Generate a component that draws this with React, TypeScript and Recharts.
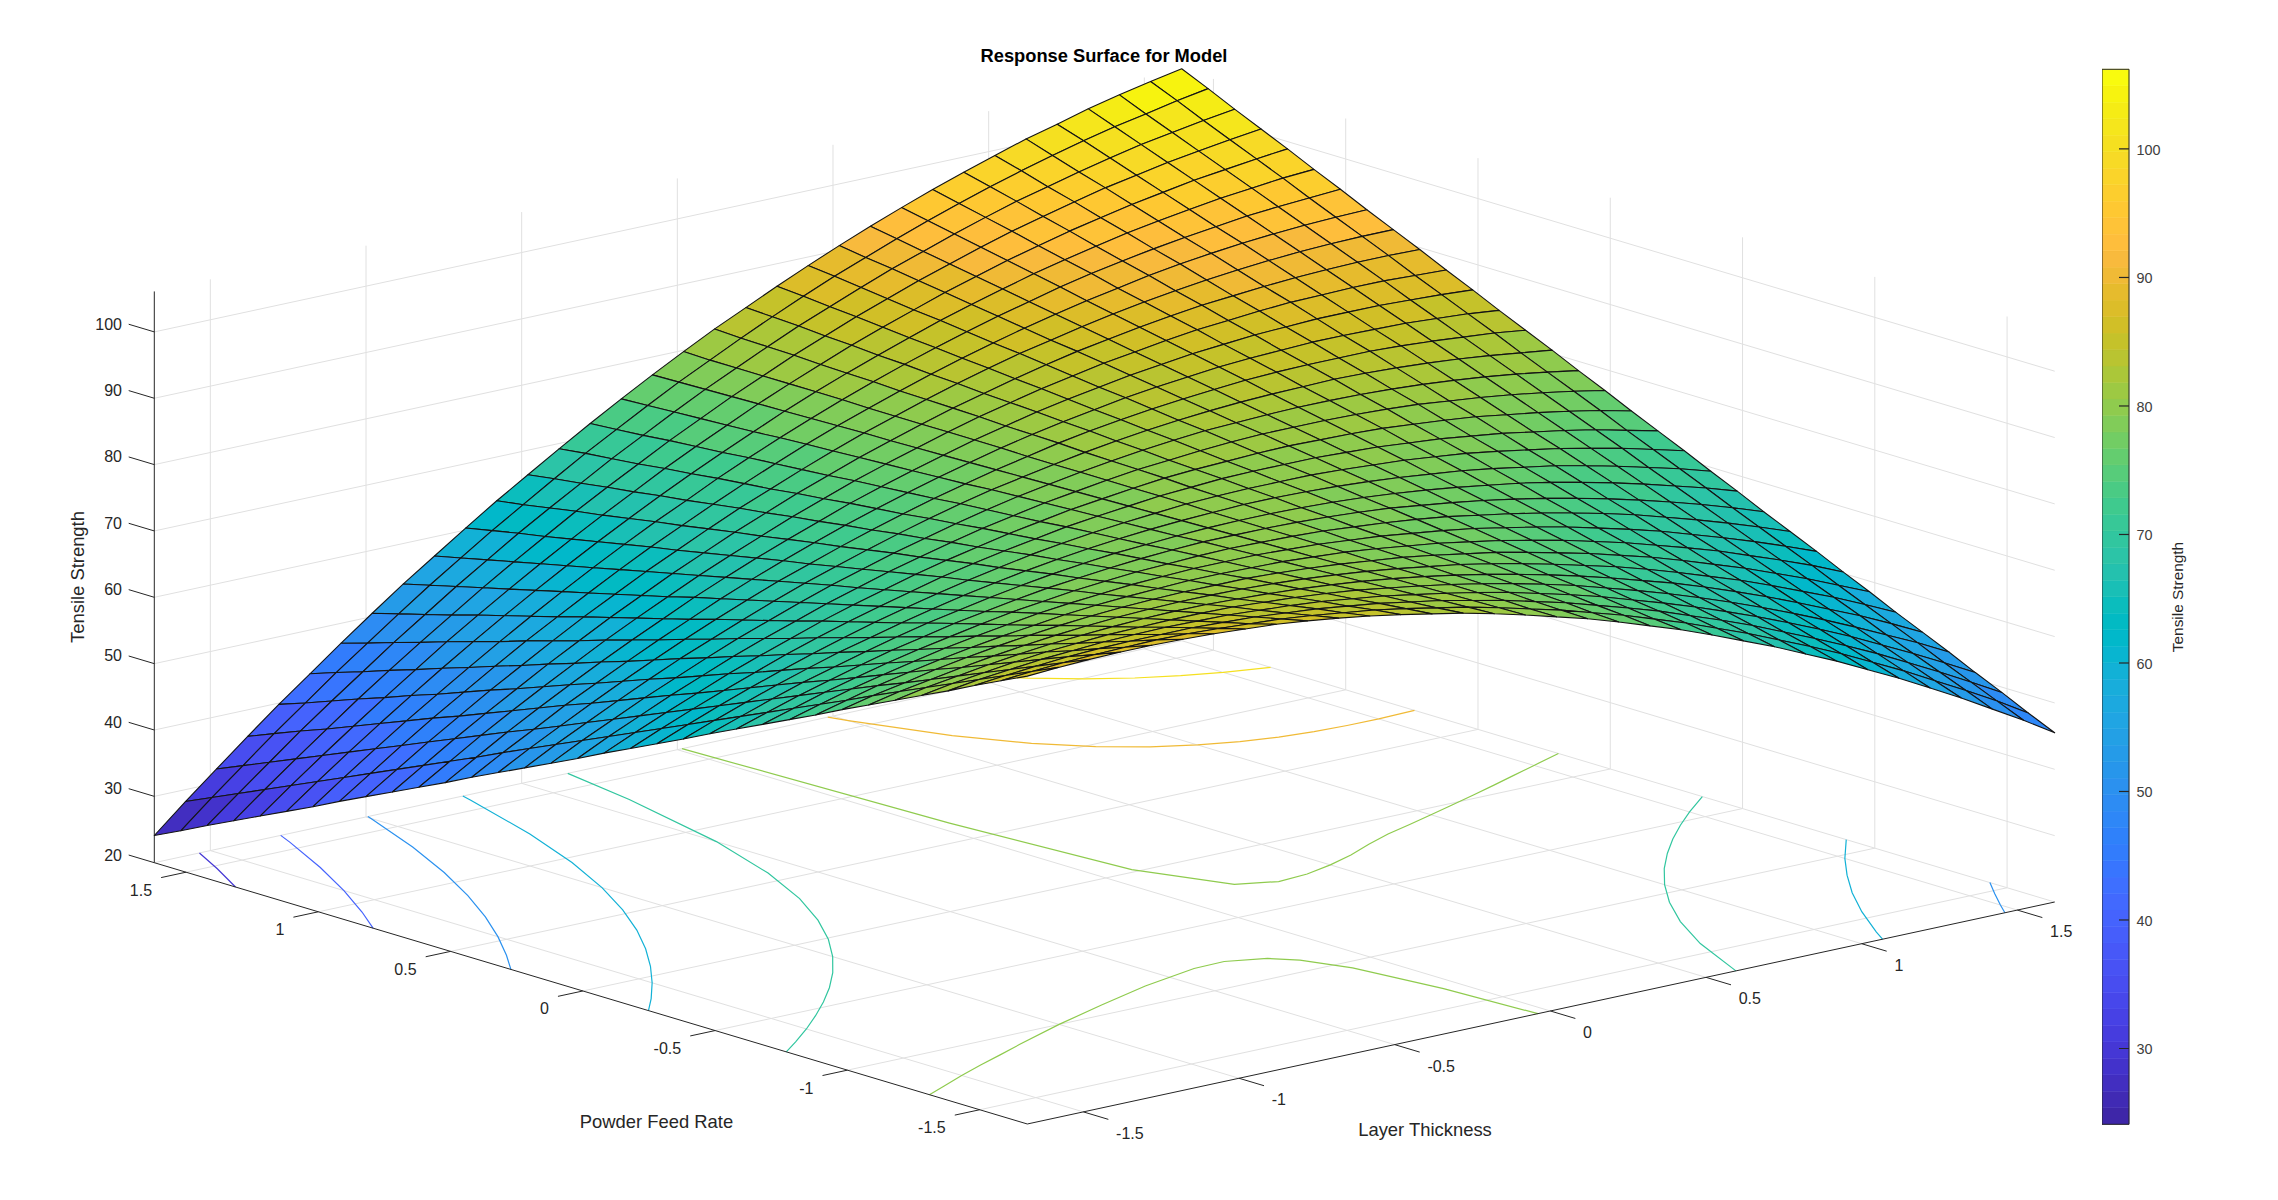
import React from 'react';
import { ScatterChart, Scatter, XAxis, YAxis, ReferenceArea } from 'recharts';

const WIDTH = 2278;
const HEIGHT = 1200;
const FONT = '"Liberation Sans", Arial, sans-serif';
const TEXT = '#262626';
const GRID = '#e0e0e0';

const LT_VALUES = [-1.68, -1.58, -1.48, -1.38, -1.28, -1.18, -1.08, -0.98, -0.88, -0.78, -0.68, -0.58, -0.48, -0.38, -0.28, -0.18, -0.08, 0.02, 0.12, 0.22, 0.32, 0.42, 0.52, 0.62, 0.72, 0.82, 0.92, 1.02, 1.12, 1.22, 1.32, 1.42, 1.52, 1.62];
const PFR_VALUES = [-1.68, -1.58, -1.48, -1.38, -1.28, -1.18, -1.08, -0.98, -0.88, -0.78, -0.68, -0.58, -0.48, -0.38, -0.28, -0.18, -0.08, 0.02, 0.12, 0.22, 0.32, 0.42, 0.52, 0.62, 0.72, 0.82, 0.92, 1.02, 1.12, 1.22, 1.32, 1.42, 1.52, 1.62];

// tensile strength, one row per layer thickness value, columns follow PFR_VALUES
const TENSILE = [
  [87.5,85.6,83.7,81.7,79.8,77.9,76.0,74.1,72.1,70.2,68.3,66.4,64.5,62.5,60.6,58.7,56.8,54.8,52.9,51.0,49.1,47.2,45.2,43.3,41.4,39.5,37.6,35.6,33.7,31.8,29.9,28.0,26.0,24.1],
  [87.8,86.0,84.2,82.4,80.6,78.8,77.0,75.2,73.3,71.5,69.7,67.9,66.1,64.3,62.5,60.7,58.9,57.1,55.3,53.5,51.7,49.9,48.0,46.2,44.4,42.6,40.8,39.0,37.2,35.4,33.6,31.8,30.0,28.2],
  [88.0,86.3,84.6,82.9,81.2,79.5,77.8,76.1,74.5,72.8,71.1,69.4,67.7,66.0,64.3,62.6,60.9,59.2,57.5,55.8,54.1,52.4,50.8,49.1,47.4,45.7,44.0,42.3,40.6,38.9,37.2,35.5,33.8,32.1],
  [88.1,86.5,85.0,83.4,81.8,80.2,78.6,77.1,75.5,73.9,72.3,70.7,69.2,67.6,66.0,64.4,62.8,61.3,59.7,58.1,56.5,55.0,53.4,51.8,50.2,48.6,47.1,45.5,43.9,42.3,40.7,39.2,37.6,36.0],
  [88.1,86.6,85.2,83.7,82.3,80.8,79.3,77.9,76.4,74.9,73.5,72.0,70.5,69.1,67.6,66.1,64.7,63.2,61.7,60.3,58.8,57.3,55.9,54.4,52.9,51.5,50.0,48.5,47.1,45.6,44.2,42.7,41.2,39.8],
  [88.0,86.7,85.3,84.0,82.6,81.3,79.9,78.6,77.2,75.9,74.5,73.2,71.8,70.5,69.1,67.8,66.4,65.1,63.7,62.4,61.0,59.6,58.3,56.9,55.6,54.2,52.9,51.5,50.2,48.8,47.5,46.1,44.8,43.4],
  [87.8,86.6,85.3,84.1,82.9,81.6,80.4,79.2,77.9,76.7,75.4,74.2,73.0,71.7,70.5,69.3,68.0,66.8,65.6,64.3,63.1,61.8,60.6,59.4,58.1,56.9,55.7,54.4,53.2,52.0,50.7,49.5,48.2,47.0],
  [87.5,86.4,85.3,84.2,83.0,81.9,80.8,79.7,78.5,77.4,76.3,75.2,74.1,72.9,71.8,70.7,69.6,68.4,67.3,66.2,65.1,63.9,62.8,61.7,60.6,59.5,58.3,57.2,56.1,55.0,53.8,52.7,51.6,50.5],
  [87.2,86.1,85.1,84.1,83.1,82.1,81.1,80.1,79.1,78.1,77.1,76.0,75.0,74.0,73.0,72.0,71.0,70.0,69.0,68.0,67.0,66.0,65.0,63.9,62.9,61.9,60.9,59.9,58.9,57.9,56.9,55.9,54.9,53.9],
  [86.7,85.8,84.9,84.0,83.1,82.2,81.3,80.4,79.5,78.6,77.7,76.8,75.9,75.0,74.1,73.2,72.3,71.4,70.6,69.7,68.8,67.9,67.0,66.1,65.2,64.3,63.4,62.5,61.6,60.7,59.8,58.9,58.0,57.1],
  [86.1,85.3,84.5,83.7,83.0,82.2,81.4,80.6,79.8,79.0,78.3,77.5,76.7,75.9,75.1,74.4,73.6,72.8,72.0,71.2,70.4,69.7,68.9,68.1,67.3,66.5,65.8,65.0,64.2,63.4,62.6,61.9,61.1,60.3],
  [85.4,84.7,84.1,83.4,82.7,82.0,81.4,80.7,80.0,79.4,78.7,78.0,77.4,76.7,76.0,75.4,74.7,74.0,73.4,72.7,72.0,71.4,70.7,70.0,69.4,68.7,68.0,67.4,66.7,66.0,65.4,64.7,64.0,63.4],
  [84.6,84.1,83.5,83.0,82.4,81.8,81.3,80.7,80.2,79.6,79.1,78.5,78.0,77.4,76.9,76.3,75.7,75.2,74.6,74.1,73.5,73.0,72.4,71.9,71.3,70.8,70.2,69.6,69.1,68.5,68.0,67.4,66.9,66.3],
  [83.7,83.3,82.9,82.4,82.0,81.5,81.1,80.7,80.2,79.8,79.3,78.9,78.5,78.0,77.6,77.1,76.7,76.3,75.8,75.4,74.9,74.5,74.1,73.6,73.2,72.7,72.3,71.9,71.4,71.0,70.5,70.1,69.7,69.2],
  [82.8,82.4,82.1,81.8,81.5,81.1,80.8,80.5,80.1,79.8,79.5,79.2,78.8,78.5,78.2,77.9,77.5,77.2,76.9,76.6,76.2,75.9,75.6,75.3,74.9,74.6,74.3,74.0,73.6,73.3,73.0,72.6,72.3,72.0],
  [81.7,81.5,81.3,81.0,80.8,80.6,80.4,80.2,80.0,79.8,79.6,79.4,79.1,78.9,78.7,78.5,78.3,78.1,77.9,77.7,77.4,77.2,77.0,76.8,76.6,76.4,76.2,76.0,75.7,75.5,75.3,75.1,74.9,74.7],
  [80.5,80.4,80.3,80.2,80.1,80.0,79.9,79.8,79.7,79.6,79.5,79.4,79.3,79.2,79.1,79.0,78.9,78.8,78.7,78.6,78.5,78.4,78.3,78.2,78.1,78.1,78.0,77.9,77.8,77.7,77.6,77.5,77.4,77.3],
  [79.2,79.2,79.3,79.3,79.3,79.3,79.3,79.3,79.4,79.4,79.4,79.4,79.4,79.4,79.5,79.5,79.5,79.5,79.5,79.5,79.5,79.6,79.6,79.6,79.6,79.6,79.6,79.7,79.7,79.7,79.7,79.7,79.7,79.8],
  [77.9,78.0,78.1,78.3,78.4,78.5,78.6,78.8,78.9,79.0,79.2,79.3,79.4,79.6,79.7,79.8,80.0,80.1,80.2,80.3,80.5,80.6,80.7,80.9,81.0,81.1,81.2,81.4,81.5,81.6,81.8,81.9,82.0,82.2],
  [76.4,76.6,76.9,77.1,77.4,77.6,77.9,78.1,78.3,78.6,78.8,79.1,79.3,79.6,79.8,80.1,80.3,80.5,80.8,81.0,81.3,81.5,81.8,82.0,82.2,82.5,82.7,83.0,83.2,83.5,83.7,84.0,84.2,84.4],
  [74.8,75.2,75.5,75.9,76.3,76.6,77.0,77.3,77.7,78.0,78.4,78.8,79.1,79.5,79.8,80.2,80.5,80.9,81.3,81.6,82.0,82.3,82.7,83.1,83.4,83.8,84.1,84.5,84.8,85.2,85.6,85.9,86.3,86.6],
  [73.2,73.6,74.1,74.6,75.1,75.5,76.0,76.5,76.9,77.4,77.9,78.4,78.8,79.3,79.8,80.2,80.7,81.2,81.7,82.1,82.6,83.1,83.5,84.0,84.5,85.0,85.4,85.9,86.4,86.8,87.3,87.8,88.3,88.7],
  [71.4,72.0,72.6,73.1,73.7,74.3,74.9,75.5,76.1,76.7,77.3,77.8,78.4,79.0,79.6,80.2,80.8,81.4,81.9,82.5,83.1,83.7,84.3,84.9,85.5,86.0,86.6,87.2,87.8,88.4,89.0,89.6,90.1,90.7],
  [69.5,70.2,70.9,71.6,72.3,73.0,73.7,74.4,75.1,75.8,76.5,77.2,77.9,78.6,79.3,80.0,80.7,81.4,82.1,82.8,83.5,84.2,84.9,85.6,86.3,87.0,87.7,88.4,89.1,89.8,90.5,91.2,91.9,92.6],
  [67.6,68.4,69.2,70.0,70.8,71.6,72.5,73.3,74.1,74.9,75.7,76.5,77.3,78.1,79.0,79.8,80.6,81.4,82.2,83.0,83.9,84.7,85.5,86.3,87.1,87.9,88.7,89.6,90.4,91.2,92.0,92.8,93.6,94.4],
  [65.5,66.4,67.4,68.3,69.2,70.2,71.1,72.0,72.9,73.9,74.8,75.7,76.6,77.6,78.5,79.4,80.4,81.3,82.2,83.1,84.1,85.0,85.9,86.9,87.8,88.7,89.6,90.6,91.5,92.4,93.4,94.3,95.2,96.1],
  [63.4,64.4,65.4,66.5,67.5,68.6,69.6,70.7,71.7,72.7,73.8,74.8,75.9,76.9,78.0,79.0,80.0,81.1,82.1,83.2,84.2,85.2,86.3,87.3,88.4,89.4,90.5,91.5,92.5,93.6,94.6,95.7,96.7,97.7],
  [61.1,62.3,63.4,64.6,65.7,66.9,68.0,69.2,70.3,71.5,72.7,73.8,75.0,76.1,77.3,78.4,79.6,80.8,81.9,83.1,84.2,85.4,86.5,87.7,88.8,90.0,91.2,92.3,93.5,94.6,95.8,96.9,98.1,99.2],
  [58.8,60.0,61.3,62.6,63.8,65.1,66.4,67.6,68.9,70.2,71.5,72.7,74.0,75.3,76.5,77.8,79.1,80.3,81.6,82.9,84.2,85.4,86.7,88.0,89.2,90.5,91.8,93.0,94.3,95.6,96.9,98.1,99.4,100.7],
  [56.3,57.7,59.1,60.5,61.8,63.2,64.6,66.0,67.4,68.7,70.1,71.5,72.9,74.3,75.7,77.0,78.4,79.8,81.2,82.6,84.0,85.3,86.7,88.1,89.5,90.9,92.3,93.6,95.0,96.4,97.8,99.2,100.6,101.9],
  [53.8,55.2,56.7,58.2,59.7,61.2,62.7,64.2,65.7,67.2,68.7,70.2,71.7,73.2,74.7,76.2,77.7,79.2,80.7,82.2,83.7,85.2,86.7,88.2,89.7,91.2,92.7,94.2,95.7,97.2,98.7,100.2,101.7,103.2],
  [51.1,52.7,54.3,55.9,57.5,59.2,60.8,62.4,64.0,65.6,67.2,68.8,70.4,72.0,73.7,75.3,76.9,78.5,80.1,81.7,83.3,84.9,86.5,88.2,89.8,91.4,93.0,94.6,96.2,97.8,99.4,101.0,102.6,104.3],
  [48.4,50.1,51.8,53.5,55.3,57.0,58.7,60.4,62.2,63.9,65.6,67.3,69.1,70.8,72.5,74.2,76.0,77.7,79.4,81.1,82.9,84.6,86.3,88.0,89.8,91.5,93.2,94.9,96.7,98.4,100.1,101.8,103.6,105.3],
  [45.5,47.3,49.2,51.0,52.9,54.7,56.5,58.4,60.2,62.1,63.9,65.7,67.6,69.4,71.3,73.1,74.9,76.8,78.6,80.5,82.3,84.1,86.0,87.8,89.7,91.5,93.3,95.2,97.0,98.9,100.7,102.5,104.4,106.2],
];

const LT_TICKS = [-1.5, -1, -0.5, 0, 0.5, 1, 1.5];
const PFR_TICKS = [-1.5, -1, -0.5, 0, 0.5, 1, 1.5];
const Z_TICKS = [20, 30, 40, 50, 60, 70, 80, 90, 100];
const COLORBAR_TICKS = [30, 40, 50, 60, 70, 80, 90, 100];

const LT_RANGE = [-1.68, 1.62];
const PFR_RANGE = [-1.68, 1.62];
const Z_RANGE = [20, 106.1];
const COLOR_RANGE = [24.1, 106.2];

// floor contours as [layer thickness, powder feed rate] pairs
const CONTOUR_30 = [[-1.68, 1.313], [-1.6, 1.476], [-1.535, 1.62]];
const CONTOUR_40 = [[-1.68, 0.793], [-1.6, 0.929], [-1.5, 1.115], [-1.4, 1.322], [-1.3, 1.554], [-1.274, 1.62]];
const CONTOUR_50_LEFT = [[-1.68, 0.272], [-1.6, 0.383], [-1.5, 0.533], [-1.4, 0.698], [-1.3, 0.882], [-1.2, 1.089], [-1.1, 1.326], [-1.0, 1.601], [-0.994, 1.62]];
const CONTOUR_60_LEFT = [[-1.68, -0.248], [-1.6, -0.164], [-1.5, -0.05], [-1.4, 0.074], [-1.3, 0.21], [-1.2, 0.361], [-1.1, 0.532], [-1, 0.728], [-0.9, 0.959], [-0.8, 1.236], [-0.7, 1.577], [-0.689, 1.62]];
const CONTOUR_70_LEFT = [[-1.68, -0.769], [-1.6, -0.71], [-1.5, -0.633], [-1.4, -0.55], [-1.3, -0.462], [-1.2, -0.367], [-1.1, -0.262], [-1, -0.144], [-0.9, -0.01], [-0.8, 0.147], [-0.7, 0.334], [-0.6, 0.571], [-0.5, 0.884], [-0.4, 1.331], [-0.352, 1.62]];
const CONTOUR_80_FRONT = [[-1.68, -1.31], [-1.6, -1.27], [-1.5, -1.22], [-1.4, -1.174], [-1.3, -1.13], [-1.2, -1.085], [-1, -1.0], [-0.8, -0.925], [-0.6, -0.855], [-0.4, -0.804], [-0.3, -0.8], [-0.2, -0.846], [-0.15, -0.91], [-0.1, -1.05], [-0.06, -1.347], [-0.04, -1.68]];
const CONTOUR_80_BACK = [[0.015, 1.62], [0.05, 0.65], [0.1, 0.02], [0.2, -0.25], [0.3, -0.3], [0.4, -0.29], [0.5, -0.26], [0.6, -0.22], [0.7, -0.17], [0.8, -0.125], [0.9, -0.089], [1, -0.052], [1.1, -0.014], [1.2, 0.025], [1.3, 0.065], [1.4, 0.106], [1.5, 0.147], [1.62, 0.196]];
const CONTOUR_90 = [[0.483, 1.62], [0.5, 1.562], [0.6, 1.287], [0.7, 1.105], [0.8, 0.98], [0.9, 0.892], [1, 0.83], [1.1, 0.788], [1.2, 0.759], [1.3, 0.743], [1.4, 0.736], [1.5, 0.734], [1.62, 0.74]];
const CONTOUR_100 = [[1.073, 1.62], [1.1, 1.589], [1.2, 1.494], [1.3, 1.421], [1.4, 1.365], [1.5, 1.322], [1.62, 1.284]];
const CONTOUR_70_RIGHT = [[0.596, -1.68], [0.7, -1.423], [0.8, -1.23], [0.9, -1.071], [1, -0.935], [1.1, -0.816], [1.2, -0.71], [1.3, -0.613], [1.4, -0.524], [1.5, -0.441], [1.62, -0.348]];
const CONTOUR_60_RIGHT = [[1.067, -1.68], [1.1, -1.618], [1.2, -1.445], [1.3, -1.291], [1.4, -1.154], [1.5, -1.028], [1.62, -0.892]];
const CONTOUR_50_RIGHT = [[1.46, -1.68], [1.5, -1.616], [1.56, -1.524], [1.62, -1.435]];

const CONTOURS = [
  { level: 30, path: CONTOUR_30 },
  { level: 40, path: CONTOUR_40 },
  { level: 50, path: CONTOUR_50_LEFT },
  { level: 60, path: CONTOUR_60_LEFT },
  { level: 70, path: CONTOUR_70_LEFT },
  { level: 80, path: CONTOUR_80_FRONT },
  { level: 80, path: CONTOUR_80_BACK },
  { level: 90, path: CONTOUR_90 },
  { level: 100, path: CONTOUR_100 },
  { level: 70, path: CONTOUR_70_RIGHT },
  { level: 60, path: CONTOUR_60_RIGHT },
  { level: 50, path: CONTOUR_50_RIGHT },
];

const PARULA = [
  '#3e26a8', '#402ab4', '#422ec0', '#4332cb', '#4537d5', '#463cde', '#4741e5', '#4747eb',
  '#484df0', '#4852f4', '#4758f8', '#465efb', '#4563fd', '#4269fe', '#3e6fff', '#3875fe',
  '#327cfc', '#2f81fa', '#2e87f7', '#2d8cf3', '#2b91ef', '#2796eb', '#259be8', '#23a0e5',
  '#20a5e3', '#1ca9df', '#18addb', '#12b1d6', '#08b5d0', '#01b8ca', '#02bac3', '#0bbdbd',
  '#19bfb6', '#24c1ae', '#2cc4a7', '#31c69f', '#37c897', '#3fca8e', '#4acb84', '#57cc7a',
  '#64cd6f', '#72cd64', '#81cc59', '#8fcb4e', '#9dc943', '#abc739', '#b9c431', '#c5c22a',
  '#d1bf27', '#dcbd29', '#e6bb2d', '#f0ba36', '#f8ba3d', '#febe3c', '#fec338', '#fec832',
  '#fcce2e', '#fad42a', '#f7da26', '#f5e020', '#f5e61c', '#f5ec15', '#f7f30f', '#f9fb0e',
];

// view of the 3D box: how one unit of each variable moves on the page
const VIEW = { x0: 154.3, y0: 862.7, ltX: 311.33, ltY: -67.27, pfrX: 264.55, pfrY: 79.18, zY: 6.635 };

const project = (lt: number, pfr: number, z: number, extra = {}) => {
  const a = lt - LT_RANGE[0];
  const b = PFR_RANGE[1] - pfr;
  return {
    px: VIEW.x0 + VIEW.ltX * a + VIEW.pfrX * b,
    py: VIEW.y0 + VIEW.ltY * a + VIEW.pfrY * b - VIEW.zY * (z - Z_RANGE[0]),
    ...extra,
  };
};

const colorFor = (z: number) => {
  const t = (z - COLOR_RANGE[0]) / (COLOR_RANGE[1] - COLOR_RANGE[0]);
  const idx = Math.min(PARULA.length - 1, Math.max(0, Math.floor(t * PARULA.length)));
  return PARULA[idx];
};

const [LT_MIN, LT_MAX] = LT_RANGE;
const [PFR_MIN, PFR_MAX] = PFR_RANGE;
const [Z_MIN, Z_MAX] = Z_RANGE;

const gridLines = [
  ...LT_TICKS.map((t) => [project(t, PFR_MAX, Z_MIN), project(t, PFR_MIN, Z_MIN)]),
  ...PFR_TICKS.map((t) => [project(LT_MIN, t, Z_MIN), project(LT_MAX, t, Z_MIN)]),
  ...Z_TICKS.map((z) => [project(LT_MIN, PFR_MAX, z), project(LT_MAX, PFR_MAX, z), project(LT_MAX, PFR_MIN, z)]),
  ...LT_TICKS.map((t) => [project(t, PFR_MAX, Z_MIN), project(t, PFR_MAX, Z_MAX)]),
  ...PFR_TICKS.map((t) => [project(LT_MAX, t, Z_MIN), project(LT_MAX, t, Z_MAX)]),
];

const axisLines = [
  [project(LT_MIN, PFR_MAX, Z_MIN), project(LT_MIN, PFR_MAX, Z_MAX)],
  [project(LT_MIN, PFR_MAX, Z_MIN), project(LT_MIN, PFR_MIN, Z_MIN), project(LT_MAX, PFR_MIN, Z_MIN)],
  ...Z_TICKS.map((z) => [project(LT_MIN, PFR_MAX, z), project(LT_MIN, PFR_MAX + 0.0968, z)]),
  ...PFR_TICKS.map((t) => [project(LT_MIN, t, Z_MIN), project(LT_MIN - 0.08, t, Z_MIN)]),
  ...LT_TICKS.map((t) => [project(t, PFR_MIN, Z_MIN), project(t, PFR_MIN - 0.0945, Z_MIN)]),
];

const surfacePoints = LT_VALUES.flatMap((lt, i) => PFR_VALUES.map((pfr, j) => project(lt, pfr, TENSILE[i][j])));

const zTickLabels = Z_TICKS.map((z) => project(LT_MIN, PFR_MAX, z, { text: String(z) }));
const pfrTickLabels = PFR_TICKS.map((t) => project(LT_MIN, t, Z_MIN, { text: String(t) }));
const ltTickLabels = LT_TICKS.map((t) => project(t, PFR_MIN, Z_MIN, { text: String(t) }));

const AXIS_TEXTS = [
  { px: 1104, py: 55, text: 'Response Surface for Model', size: 18.3, weight: 700, rotate: 0 },
  { px: 656.5, py: 1121, text: 'Powder Feed Rate', size: 18.4, weight: 400, rotate: 0 },
  { px: 1425, py: 1129, text: 'Layer Thickness', size: 18.4, weight: 400, rotate: 0 },
  { px: 77.5, py: 577, text: 'Tensile Strength', size: 18.4, weight: 400, rotate: -90 },
  { px: 2177, py: 597, text: 'Tensile Strength', size: 15.4, weight: 400, rotate: -90 },
];

const NoMark = () => null;

// one Scatter holds every vertex, the mesh is painted far corner first
const SurfaceMesh = (props: any) => {
  const pts = props.points;
  const n = LT_VALUES.length;
  const m = PFR_VALUES.length;
  const at = (i: number, j: number) => pts[i * m + j];
  const cells = [];
  for (let i = n - 2; i >= 0; i--) {
    for (let j = m - 2; j >= 0; j--) {
      const c = [at(i, j), at(i + 1, j), at(i + 1, j + 1), at(i, j + 1)];
      const mean = (TENSILE[i][j] + TENSILE[i + 1][j] + TENSILE[i + 1][j + 1] + TENSILE[i][j + 1]) / 4;
      const d = `M${c.map((p) => `${p.x.toFixed(2)},${p.y.toFixed(2)}`).join('L')}Z`;
      cells.push(<path key={`${i}-${j}`} d={d} fill={colorFor(mean)} stroke="#141414" strokeWidth={1.1} strokeLinejoin="round" />);
    }
  }
  return <g>{cells}</g>;
};

const tickText = (dx: number, dy: number, anchor: string) => (props: any) => (
  <text x={props.cx + dx} y={props.cy + dy} textAnchor={anchor} dominantBaseline="central" fontFamily={FONT} fontSize={16} fill={TEXT}>
    {props.payload.text}
  </text>
);

const axisText = (props: any) => {
  const { text, size, weight, rotate } = props.payload;
  return (
    <text
      x={props.cx}
      y={props.cy}
      textAnchor="middle"
      dominantBaseline="central"
      fontFamily={FONT}
      fontSize={size}
      fontWeight={weight}
      fill={weight === 700 ? '#000' : TEXT}
      transform={rotate ? `rotate(${rotate} ${props.cx} ${props.cy})` : undefined}
    >
      {text}
    </text>
  );
};

const colorbarLabel = (props: any) => (
  <text x={props.x + 7.5} y={props.y + 1} dominantBaseline="central" fontFamily={FONT} fontSize={14.4} fill="#404040">
    {props.payload.value}
  </text>
);

const colorbarMark = (props: any) => <line x1={props.cx - 10} x2={props.cx} y1={props.cy} y2={props.cy} stroke={TEXT} strokeWidth={1.2} />;

const bands = PARULA.map((color, i) => {
  const step = (COLOR_RANGE[1] - COLOR_RANGE[0]) / PARULA.length;
  return { color, u: 0.5, lo: COLOR_RANGE[0] + i * step, hi: COLOR_RANGE[0] + (i + 1) * step };
});

const colorbarMarks = COLORBAR_TICKS.map((v) => ({ u: 1, lo: v }));

function Colorbar() {
  return (
    <div style={{ position: 'absolute', left: 2102, top: 0 }}>
      <ScatterChart width={87} height={HEIGHT} margin={{ top: 69.3, bottom: HEIGHT - 1124.3, left: 0, right: 0 }}>
        <XAxis type="number" dataKey="u" domain={[0, 1]} allowDataOverflow hide />
        {bands.map((b) => (
          <ReferenceArea key={b.color} x1={0} x2={1} y1={b.lo} y2={b.hi} fill={b.color} fillOpacity={1} stroke={b.color} strokeWidth={0.5} ifOverflow="visible" />
        ))}
        <ReferenceArea x1={0} x2={1} y1={COLOR_RANGE[0]} y2={COLOR_RANGE[1]} fill="none" stroke={TEXT} strokeWidth={1} ifOverflow="visible" />
        <YAxis
          type="number"
          dataKey="lo"
          orientation="right"
          width={60}
          domain={COLOR_RANGE}
          allowDataOverflow
          ticks={COLORBAR_TICKS}
          tick={colorbarLabel}
          tickLine={false}
          axisLine={false}
          tickSize={0}
          tickMargin={0}
          interval={0}
        />
        <Scatter data={colorbarMarks} shape={colorbarMark} isAnimationActive={false} />
      </ScatterChart>
    </div>
  );
}

export default function App() {
  return (
    <div style={{ position: 'absolute', left: 0, top: 0, width: WIDTH, height: HEIGHT, background: '#fff', overflow: 'hidden' }}>
      <ScatterChart width={WIDTH} height={HEIGHT} margin={{ top: 0, right: 0, bottom: 0, left: 0 }}>
        <XAxis type="number" dataKey="px" domain={[0, WIDTH]} hide />
        <YAxis type="number" dataKey="py" domain={[0, HEIGHT]} reversed hide />
        {gridLines.map((pts, i) => (
          <Scatter key={`grid-${i}`} data={pts} shape={NoMark} line={{ stroke: GRID, strokeWidth: 1 }} isAnimationActive={false} />
        ))}
        {CONTOURS.map((c, i) => (
          <Scatter
            key={`contour-${i}`}
            data={c.path.map(([lt, pfr]) => project(lt, pfr, Z_MIN))}
            shape={NoMark}
            line={{ stroke: colorFor(c.level), strokeWidth: 1.2 }}
            isAnimationActive={false}
          />
        ))}
        {axisLines.map((pts, i) => (
          <Scatter key={`axis-${i}`} data={pts} shape={NoMark} line={{ stroke: TEXT, strokeWidth: 1 }} isAnimationActive={false} />
        ))}
        <Scatter data={surfacePoints} shape={NoMark} line={SurfaceMesh} isAnimationActive={false} />
        <Scatter data={zTickLabels} shape={tickText(-32.3, -7.7, 'end')} isAnimationActive={false} />
        <Scatter data={pfrTickLabels} shape={tickText(-34, 18, 'end')} isAnimationActive={false} />
        <Scatter data={ltTickLabels} shape={tickText(32.7, 21.5, 'start')} isAnimationActive={false} />
        <Scatter data={AXIS_TEXTS} shape={axisText} isAnimationActive={false} />
      </ScatterChart>
      <Colorbar />
    </div>
  );
}
